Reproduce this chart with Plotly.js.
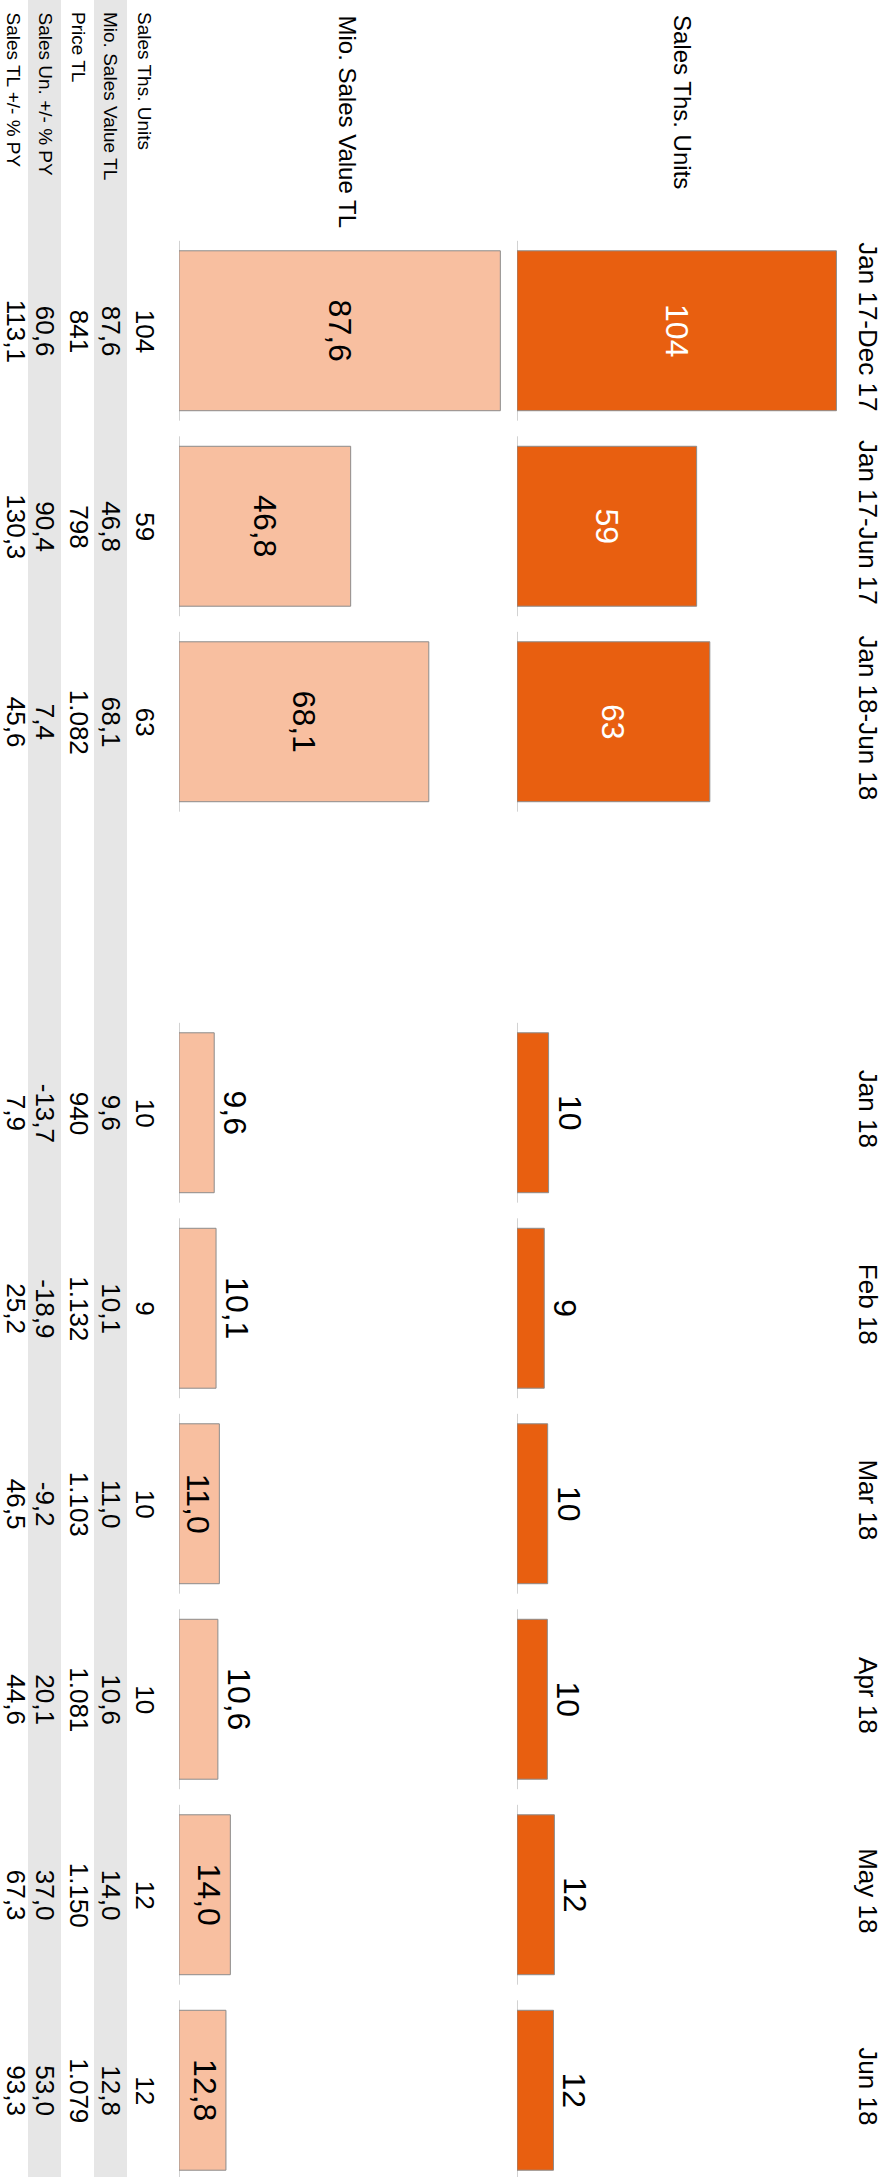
<!DOCTYPE html>
<html>
<head>
<meta charset="utf-8">
<script src="https://cdn.plot.ly/plotly-3.0.1.min.js"></script>
<style>html,body{margin:0;padding:0;background:#fff;}#chart{width:889px;height:2177px;}</style>
</head>
<body>
<div id="chart"></div>
<script>
// ---- data ----
const periodCats = ['Jan 17-Dec 17', 'Jan 17-Jun 17', 'Jan 18-Jun 18'];
const monthCats = ['Jan 18', 'Feb 18', 'Mar 18', 'Apr 18', 'May 18', 'Jun 18'];

const unitsPeriod = [104.2, 58.6, 62.9];          // Sales Ths. Units (bar length)
const unitsMonth = [10.3, 8.9, 10.0, 9.9, 12.2, 11.9];
const unitsShownPeriod = [104, 59, 63];           // displayed (rounded) labels
const unitsShownMonth = [10, 9, 10, 10, 12, 12];

const valuePeriod = [87.6, 46.8, 68.1];           // Mio. Sales Value TL
const valueMonth = [9.6, 10.1, 11.0, 10.6, 14.0, 12.8];

const pricePeriod = [841, 798, 1082];             // Price TL
const priceMonth = [940, 1132, 1103, 1081, 1150, 1079];

const unitsPYPeriod = [60.6, 90.4, 7.4];          // Sales Un. +/- % PY
const unitsPYMonth = [-13.7, -18.9, -9.2, 20.1, 37.0, 53.0];

const salesPYPeriod = [113.1, 130.3, 45.6];       // Sales TL +/- % PY
const salesPYMonth = [7.9, 25.2, 46.5, 44.6, 67.3, 93.3];

const rowLabels = ['Sales Ths. Units', 'Mio. Sales Value TL', 'Price TL', 'Sales Un. +/- % PY', 'Sales TL +/- % PY'];
const headerUnits = 'Sales Ths. Units';
const headerValue = 'Mio. Sales Value TL';

// ---- helpers ----
function fmt(v, dec) {
  const s = Math.abs(v).toFixed(dec);
  let [ip, dp] = s.split('.');
  ip = ip.replace(/\B(?=(\d{3})+(?!\d))/g, '.');
  return (v < 0 ? '-' : '') + ip + (dp ? ',' + dp : '');
}

const GAP = ' ';
const allCats = periodCats.concat([GAP], monthCats);
const W = 889, H = 2177;
const FONT = 'Liberation Sans, Arial, sans-serif';
const ORANGE = '#E85F10';
const LIGHT = '#F8BFA0';
const OUTLINE = '#8C8C8C';
const BARW = 0.818;
const BARFONT = 32;

const traces = [
  {
    type: 'bar', orientation: 'h', name: headerUnits,
    x: unitsPeriod, y: periodCats, xaxis: 'x', yaxis: 'y', width: BARW,
    marker: {color: ORANGE, line: {color: OUTLINE, width: 1}},
    text: unitsShownPeriod.map(v => fmt(v, 0)), textposition: 'inside',
    insidetextanchor: 'middle', textangle: 90, constraintext: 'none',
    textfont: {family: FONT, size: BARFONT, color: '#ffffff'},
    hoverinfo: 'skip', showlegend: false
  },
  {
    type: 'bar', orientation: 'h', name: headerUnits,
    x: unitsMonth, y: monthCats, xaxis: 'x', yaxis: 'y', width: BARW,
    marker: {color: ORANGE, line: {color: OUTLINE, width: 1}},
    text: unitsShownMonth.map(v => fmt(v, 0)), textposition: 'outside',
    textangle: 90, constraintext: 'none', cliponaxis: false,
    textfont: {family: FONT, size: BARFONT, color: '#000000'},
    hoverinfo: 'skip', showlegend: false
  },
  {
    type: 'bar', orientation: 'h', name: headerValue,
    x: valuePeriod, y: periodCats, xaxis: 'x2', yaxis: 'y', width: BARW,
    marker: {color: LIGHT, line: {color: OUTLINE, width: 1}},
    text: valuePeriod.map(v => fmt(v, 1)), textposition: 'inside',
    insidetextanchor: 'middle', textangle: 90, constraintext: 'none',
    textfont: {family: FONT, size: BARFONT, color: '#000000'},
    hoverinfo: 'skip', showlegend: false
  },
  {
    type: 'bar', orientation: 'h', name: headerValue,
    x: valueMonth, y: monthCats, xaxis: 'x2', yaxis: 'y', width: BARW,
    marker: {color: LIGHT, line: {color: OUTLINE, width: 1}},
    text: valueMonth.map(v => fmt(v, 1)),
    textposition: valueMonth.map(v => v >= 10.9 ? 'inside' : 'outside'),
    insidetextanchor: 'end', textangle: 90, constraintext: 'none', cliponaxis: false,
    textfont: {family: FONT, size: BARFONT, color: '#000000'},
    hoverinfo: 'skip', showlegend: false
  }
];

// ---- shapes: grey table bands + per-category baselines ----
const shapes = [];
const bandCols = [[94, 127], [28, 61]];
bandCols.forEach(b => shapes.push({
  type: 'rect', xref: 'paper', yref: 'paper', x0: b[0] / W, x1: b[1] / W, y0: 0, y1: 1,
  fillcolor: '#E6E6E6', line: {width: 0}, layer: 'below'
}));
allCats.forEach((c, i) => {
  if (c === GAP) return;
  ['x', 'x2'].forEach(xr => shapes.push({
    type: 'line', xref: xr, yref: 'y', x0: 0, x1: 0, y0: i - 0.46, y1: i + 0.46,
    line: {color: '#A6A6A6', width: 1}, layer: 'below'
  }));
});

// ---- annotations: headers, row labels, table values ----
const annotations = [];
annotations.push({xref: 'x domain', yref: 'paper', x: 0.5, y: 1 - 13 / H, xanchor: 'center', yanchor: 'top',
  text: headerUnits, showarrow: false, textangle: 90, font: {family: FONT, size: 24, color: '#000'}});
annotations.push({xref: 'x2 domain', yref: 'paper', x: 0.5, y: 1 - 13 / H, xanchor: 'center', yanchor: 'top',
  text: headerValue, showarrow: false, textangle: 90, font: {family: FONT, size: 24, color: '#000'}});

const rowX = [145, 111, 79, 45, 13];
const valX = [145, 111, 79, 45, 16];
rowLabels.forEach((lab, r) => annotations.push({
  xref: 'paper', yref: 'paper', x: rowX[r] / W, y: 1 - 11 / H, xanchor: 'center', yanchor: 'top',
  text: lab, showarrow: false, textangle: 90, borderpad: 0, font: {family: FONT, size: 19, color: '#000'}
}));

const tableRows = [
  [unitsShownPeriod.map(v => fmt(v, 0)), unitsShownMonth.map(v => fmt(v, 0))],
  [valuePeriod.map(v => fmt(v, 1)), valueMonth.map(v => fmt(v, 1))],
  [pricePeriod.map(v => fmt(v, 0)), priceMonth.map(v => fmt(v, 0))],
  [unitsPYPeriod.map(v => fmt(v, 1)), unitsPYMonth.map(v => fmt(v, 1))],
  [salesPYPeriod.map(v => fmt(v, 1)), salesPYMonth.map(v => fmt(v, 1))]
];
tableRows.forEach((row, r) => {
  const vals = row[0].concat(row[1]);
  const cats = periodCats.concat(monthCats);
  vals.forEach((t, k) => annotations.push({
    xref: 'paper', yref: 'y', x: valX[r] / W, y: allCats.indexOf(cats[k]),
    xanchor: 'center', yanchor: 'middle', text: t, showarrow: false, textangle: 90, borderpad: 0,
    font: {family: FONT, size: 26, color: '#000'}
  }));
});

const pitch = 195.5, topPx = 233;
const layout = {
  width: W, height: H,
  margin: {l: 0, r: 0, t: 0, b: 0, pad: 0},
  paper_bgcolor: '#ffffff', plot_bgcolor: 'rgba(0,0,0,0)',
  barmode: 'overlay', showlegend: false,
  font: {family: FONT, color: '#000'},
  xaxis: {domain: [517 / W, 849 / W], range: [0, 108.3], visible: false, anchor: 'y', fixedrange: true},
  xaxis2: {domain: [179 / W, 515 / W], range: [0, 91.6], visible: false, anchor: 'y', fixedrange: true},
  yaxis: {
    type: 'category', categoryorder: 'array', categoryarray: allCats,
    domain: [0, 1 - topPx / H], range: [-0.5 + (H - topPx) / pitch, -0.5],
    anchor: 'x', side: 'right', tickangle: 90, ticks: '', showgrid: false, zeroline: false, showline: false,
    tickfont: {family: FONT, size: 26, color: '#000'}, ticklabelstandoff: 4, fixedrange: true
  },
  shapes: shapes,
  annotations: annotations
};

Plotly.newPlot('chart', traces, layout, {displayModeBar: false, staticPlot: true});
</script>
</body>
</html>
